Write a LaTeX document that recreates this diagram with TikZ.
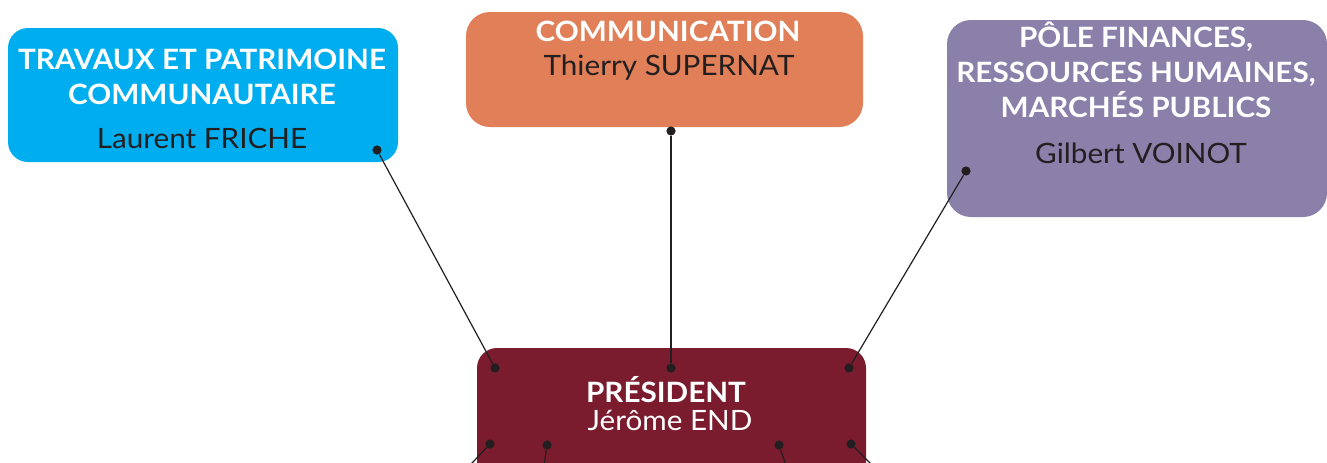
\documentclass[tikz,border=0pt]{standalone}
\usepackage{fontspec}
\setmainfont{Lato}[FakeStretch=1.06]
\definecolor{travauxblue}{RGB}{0,174,239}
\definecolor{commorange}{RGB}{224,127,88}
\definecolor{polepurple}{RGB}{138,128,170}
\definecolor{presred}{RGB}{122,27,46}
\definecolor{namegray}{RGB}{35,31,32}
\tikzstyle{link} = [namegray, line width=0.6pt]
\tikzstyle{dot} = [circle, fill=namegray, inner sep=0pt, minimum size=4.6pt]

\begin{document}
\begin{tikzpicture}[x=0.5pt, y=-0.5pt]
			\tikzstyle{box} = [rectangle, rounded corners=11pt, inner sep=0pt];
			\tikzstyle{titletext} = [align=center, inner sep=0pt, anchor=south, text=white, font=\bfseries\fontsize{14}{17.5}\selectfont];
			\tikzstyle{nametext} = [inner sep=0pt, anchor=base, text=namegray, font=\fontsize{14}{17}\selectfont];
			\useasboundingbox (0,0) rectangle (1327,462);
			\clip (0,0) rectangle (1327,462);
			% boxes
			\node (travaux) [box, fill=travauxblue, minimum width=195pt, minimum height=67pt, rounded corners=10pt] at (203,95) {};
			\node (comm) [box, fill=commorange, minimum width=198.5pt, minimum height=57.5pt, rounded corners=12pt] at (664.5,69.5) {};
			\node (pole) [box, fill=polepurple, minimum width=190pt, minimum height=98.5pt, rounded corners=12pt] at (1137,118.5) {};
			\node (pres) [box, fill=presred, minimum width=194.5pt, minimum height=86pt, rounded corners=10pt] at (671.5,434) {};
			% texts
			\node (travauxtitle) [titletext] at (202,105) {TRAVAUX ET PATRIMOINE\\COMMUNAUTAIRE};
			\node (travauxname) [nametext] at (202,148) {Laurent FRICHE};
			\node (commtitle) [titletext] at (668,42) {COMMUNICATION};
			\node (commname) [nametext] at (669,75) {Thierry SUPERNAT};
			\node (poletitle) [titletext] at (1136,118) {PÔLE FINANCES,\\RESSOURCES HUMAINES,\\MARCHÉS PUBLICS};
			\node (polename) [nametext] at (1141,163) {Gilbert VOINOT};
			\node (prestitle) [titletext] at (666,403) {PRÉSIDENT};
			\node (presname) [nametext, text=white] at (670,430) {Jérôme END};
			% dots
			\node (travauxdot) [dot] at (377,150) {};
			\node (commdot) [dot] at (671,131) {};
			\node (poledot) [dot] at (966,171) {};
			\node (presnw) [dot] at (495,368) {};
			\node (presn) [dot] at (671,368) {};
			\node (presne) [dot] at (849,368) {};
			\node (pressw) [dot] at (490,444) {};
			\node (presssw) [dot] at (547,445) {};
			\node (presse) [dot] at (779,445) {};
			\node (pressee) [dot] at (851,444) {};
			\coordinate (outsw) at (456,480);
			\coordinate (outssw) at (542,480);
			\coordinate (outse) at (791,480);
			\coordinate (outsee) at (887,480);
			% links
			\draw [link] (travauxdot) -- (presnw);
			\draw [link] (commdot) -- (presn);
			\draw [link] (poledot) -- (presne);
			\draw [link] (pressw) -- (outsw);
			\draw [link] (presssw) -- (outssw);
			\draw [link] (presse) -- (outse);
			\draw [link] (pressee) -- (outsee);
		\end{tikzpicture}
\end{document}
